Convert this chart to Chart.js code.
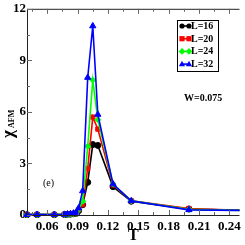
<!DOCTYPE html>
<html>
<head>
<meta charset="utf-8">
<script src="https://cdn.jsdelivr.net/npm/chart.js@4.4.1/dist/chart.umd.min.js"></script>
<style>
  html, body { margin: 0; padding: 0; background: #fff; }
  #wrap { width: 245px; height: 245px; position: relative; }
</style>
</head>
<body>
<div id="wrap"><canvas id="myChart"></canvas></div>
<script>
// temperatures (x)
var temps = [0.04, 0.05, 0.067, 0.077, 0.08, 0.083, 0.086, 0.089, 0.091, 0.095, 0.1, 0.105, 0.11, 0.125, 0.143, 0.2, 0.26];

// chi_AFM for each system size
var chiL16 = [0.02, 0.02, 0.02, 0.03, 0.04, 0.05, 0.07, 0.10, 0.25, 0.60, 1.90, 4.10, 4.05, 1.65, 0.80, 0.35, 0.26];
var chiL20 = [0.02, 0.02, 0.02, 0.03, 0.04, 0.05, 0.07, 0.10, 0.30, 0.60, 2.70, 5.70, 5.00, 1.75, 0.82, 0.38, 0.26];
var chiL24 = [0.02, 0.02, 0.02, 0.03, 0.04, 0.05, 0.07, 0.10, 0.30, 0.80, 4.00, 7.85, 5.55, 1.80, 0.82, 0.33, 0.26];
var chiL32 = [0.02, 0.02, 0.02, 0.03, 0.05, 0.07, 0.10, 0.15, 0.40, 1.40, 8.00, 11.0, 5.85, 1.80, 0.82, 0.30, 0.26];

var seriesLabels = ['L=16', 'L=20', 'L=24', 'L=32'];
var xTicks = [0.06, 0.09, 0.12, 0.15, 0.18, 0.21, 0.24];
var yTicks = [0, 3, 6, 9, 12];

var colors = ['#000000', '#ff0000', '#00ff00', '#0000ff'];
var shapes = ['circle', 'rect', 'rectRot', 'triangle'];
var allSeries = [chiL16, chiL20, chiL24, chiL32];

function toPoints(arr) {
  var pts = [];
  for (var i = 0; i < temps.length; i++) {
    pts.push({x: temps[i], y: arr[i]});
  }
  return pts;
}

var datasets = [];
for (var k = 0; k < allSeries.length; k++) {
  datasets.push({
    label: seriesLabels[k],
    data: toPoints(allSeries[k]),
    borderColor: colors[k],
    backgroundColor: colors[k],
    borderWidth: 1.6,
    pointStyle: shapes[k],
    pointRadius: shapes[k] == 'triangle' ? 3.6 : 3,
    pointBorderWidth: 1,
    showLine: true,
    tension: 0,
    order: 3 - k,
    clip: {left: 8, top: 8, right: 0, bottom: 8}
  });
}

function shape(ctx, type, x, y, r) {
  ctx.beginPath();
  if (type == 'circle') {
    ctx.arc(x, y, r, 0, Math.PI * 2);
  } else if (type == 'rect') {
    ctx.rect(x - r, y - r, 2 * r, 2 * r);
  } else if (type == 'rectRot') {
    ctx.moveTo(x, y - r * 1.3); ctx.lineTo(x + r * 1.3, y);
    ctx.lineTo(x, y + r * 1.3); ctx.lineTo(x - r * 1.3, y);
    ctx.closePath();
  } else {
    ctx.moveTo(x, y - r * 1.3); ctx.lineTo(x + r * 1.2, y + r * 0.8);
    ctx.lineTo(x - r * 1.2, y + r * 0.8);
    ctx.closePath();
  }
  ctx.fill();
}

var decorPlugin = {
  id: 'decor',
  afterDraw: function(chart) {
    var ctx = chart.ctx;
    var a = chart.chartArea;
    var xs = chart.scales.x, ys = chart.scales.y;
    ctx.save();

    // frame
    ctx.strokeStyle = '#222';
    ctx.lineWidth = 1;
    ctx.beginPath();
    ctx.moveTo(a.left + 0.5, a.top + 0.5);
    ctx.lineTo(a.right, a.top + 0.5);
    ctx.moveTo(a.left + 0.5, a.top);
    ctx.lineTo(a.left + 0.5, a.bottom + 0.5);
    ctx.lineTo(a.right, a.bottom + 0.5);
    ctx.stroke();

    // inward ticks
    ctx.strokeStyle = '#666';
    ctx.beginPath();
    for (var i = 0; i < xTicks.length; i++) {
      var px = Math.round(xs.getPixelForValue(xTicks[i])) + 0.5;
      ctx.moveTo(px, a.bottom); ctx.lineTo(px, a.bottom - 5);
      ctx.moveTo(px, a.top); ctx.lineTo(px, a.top + 5);
      var mx = Math.round(xs.getPixelForValue(xTicks[i] - 0.015)) + 0.5;
      ctx.moveTo(mx, a.bottom); ctx.lineTo(mx, a.bottom - 3);
      ctx.moveTo(mx, a.top); ctx.lineTo(mx, a.top + 3);
    }
    for (var j = 0; j < yTicks.length; j++) {
      var py = Math.round(ys.getPixelForValue(yTicks[j])) + 0.5;
      ctx.moveTo(a.left, py); ctx.lineTo(a.left + 5, py);
      if (j > 0) {
        var my = Math.round(ys.getPixelForValue(yTicks[j] - 1.5)) + 0.5;
        ctx.moveTo(a.left, my); ctx.lineTo(a.left + 3, my);
      }
    }
    ctx.stroke();

    // legend box
    var bx = 177, by = 20, bw = 41, bh = 51;
    ctx.fillStyle = '#fff';
    ctx.fillRect(bx, by, bw, bh);
    ctx.strokeStyle = '#000';
    ctx.strokeRect(bx + 0.5, by + 0.5, bw, bh);
    ctx.font = 'bold 10px "Liberation Serif"';
    ctx.textBaseline = 'middle';
    ctx.textAlign = 'left';
    for (var k = 0; k < seriesLabels.length; k++) {
      var ly = by + 6 + k * 12.7;
      ctx.strokeStyle = colors[k];
      ctx.lineWidth = 1.6;
      ctx.beginPath();
      ctx.moveTo(bx + 4, ly); ctx.lineTo(bx + 13, ly);
      ctx.stroke();
      ctx.fillStyle = colors[k];
      shape(ctx, shapes[k], bx + 5, ly, 2.6);
      shape(ctx, shapes[k], bx + 12, ly, 2.6);
      ctx.fillStyle = '#000';
      ctx.fillText(seriesLabels[k], bx + 14, ly + 0.5);
    }

    // annotations
    ctx.fillStyle = '#000';
    ctx.font = 'bold 10px "Liberation Serif"';
    ctx.fillText('W=0.075', 184, 98);
    ctx.font = '10px "Liberation Serif"';
    ctx.fillText('(e)', 43, 183);

    // y title: chi with AFM subscript, rotated
    ctx.translate(9, 130);
    ctx.rotate(-Math.PI / 2);
    ctx.textAlign = 'left';
    ctx.font = 'bold 17px "Liberation Serif"';
    ctx.fillText('\u03c7', -8, 0);
    ctx.font = 'bold 8px "Liberation Serif"';
    ctx.fillText('AFM', 2, 3);
    ctx.restore();
  }
};

var ctx = document.getElementById('myChart');
var chart = new Chart(ctx, {
  type: 'scatter',
  data: { datasets: datasets },
  options: {
    responsive: true,
    maintainAspectRatio: false,
    animation: false,
    layout: { padding: {top: 6, right: 0, left: 0, bottom: 0} },
    plugins: {
      legend: { display: false },
      tooltip: { enabled: false }
    },
    scales: {
      x: {
        type: 'linear',
        min: 0.04,
        max: 0.25,
        afterBuildTicks: function(scale) {
          scale.ticks = xTicks.map(function(v) { return {value: v}; });
        },
        afterFit: function(scale) { scale.height = 30; },
        grid: { display: false, drawTicks: false },
        border: { display: false },
        ticks: {
          color: '#000',
          maxRotation: 0,
          padding: 4,
          font: { family: 'Liberation Serif', weight: 'bold', size: 13 },
          callback: function(v) { return v.toFixed(2); }
        },
        title: {
          display: true,
          text: 'T',
          color: '#000',
          padding: 0,
          font: { family: 'Liberation Serif', weight: 'bold', size: 16 }
        }
      },
      y: {
        min: 0,
        max: 12,
        afterBuildTicks: function(scale) {
          scale.ticks = yTicks.map(function(v) { return {value: v}; });
        },
        afterFit: function(scale) { scale.width = 27; },
        grid: { display: false, drawTicks: false },
        border: { display: false },
        ticks: {
          color: '#000',
          padding: 1,
          font: { family: 'Liberation Serif', weight: 'bold', size: 13 }
        }
      }
    }
  },
  plugins: [decorPlugin]
});
</script>
</body>
</html>
